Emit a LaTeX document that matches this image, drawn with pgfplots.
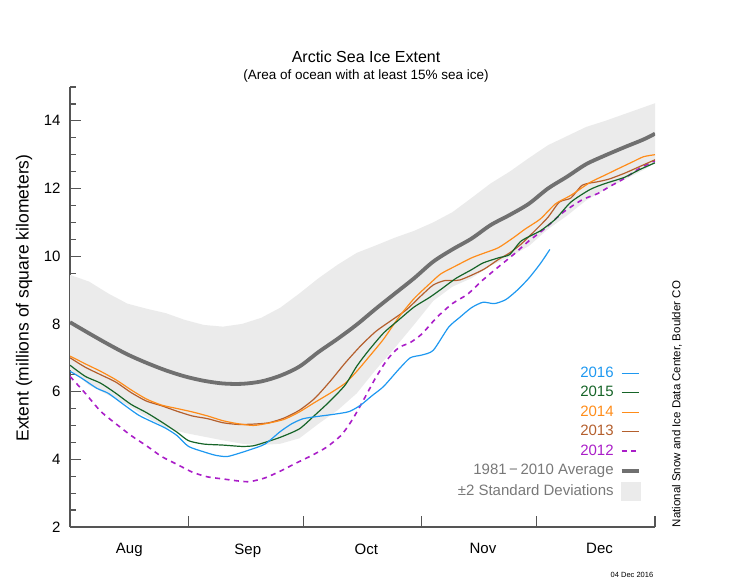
\documentclass[border=0pt]{standalone}
\usepackage{fontspec}
\setmainfont{Liberation Sans}
\usepackage{pgfplots}
\pgfplotsset{compat=1.18}
\usepgfplotslibrary{fillbetween}
\definecolor{cA}{RGB}{30,152,240}
\definecolor{cB}{RGB}{22,100,40}
\definecolor{cC}{RGB}{255,140,25}
\definecolor{cD}{RGB}{180,95,45}
\definecolor{cE}{RGB}{170,30,200}
\definecolor{avg}{RGB}{112,112,112}
\definecolor{band}{RGB}{235,235,235}
\definecolor{axc}{RGB}{85,85,85}
\definecolor{legtxt}{RGB}{120,120,120}
\begin{document}
\begin{tikzpicture}
\begin{axis}[
  at={(70pt,61pt)}, anchor=south west,
  scale only axis, width=585pt, height=440pt,
  xmin=0, xmax=153, ymin=2, ymax=15,
  axis x line*=bottom, axis y line*=left,
  axis line style={axc, line width=1.2pt},
  tick align=inside,
  tick style={axc, line width=1.2pt},
  major tick length=11pt, minor tick length=6pt,
  xtick={0,31,61,92,122,153}, xticklabels={},
  extra x ticks={15.5,46.5,77.5,108,138.5},
  extra x tick labels={Aug,Sep,Oct,Nov,Dec},
  extra x tick style={major tick length=0pt, tick style={draw=none}},
  x tick label style={font=\fontsize{15}{15}\selectfont, yshift=-13pt},
  ytick={2,4,...,14},
  minor ytick={2.5,3,...,15},
  y tick label style={font=\fontsize{15}{15}\selectfont, xshift=-6pt},
  /pgf/number format/assume math mode=true,
  legend plot pos=right,
  legend cell align=right,
  legend style={draw=none, fill=none, at={(0.976,0.368)}, anchor=north east,
    inner sep=0pt, row sep=3.5pt, column sep=5pt,
    font=\fontsize{15}{15}\selectfont,
    nodes={text height=11pt, text depth=3pt, inner sep=1pt}},
]
% +-2 SD band
\addplot[name path=upper, draw=none, forget plot] coordinates {
(0,9.45)(5,9.25)(10,8.9)(15,8.6)(20,8.45)(25,8.32)(30,8.12)(35,7.97)(40,7.92)(45,8.0)(50,8.18)(55,8.48)(60,8.9)(65,9.35)(70,9.75)(75,10.1)(80,10.32)(85,10.55)(90,10.75)(95,11.0)(100,11.3)(105,11.72)(110,12.15)(115,12.5)(120,12.9)(125,13.28)(130,13.55)(135,13.82)(140,14.0)(145,14.2)(150,14.4)(153,14.52)};
\addplot[name path=lower, draw=none, forget plot] coordinates {
(0,6.65)(5,6.19)(10,5.9)(15,5.6)(20,5.25)(25,4.94)(30,4.78)(35,4.67)(40,4.56)(45,4.46)(50,4.42)(55,4.46)(60,4.62)(65,5.05)(70,5.45)(75,5.95)(80,6.65)(85,7.3)(90,7.98)(95,8.68)(100,9.1)(105,9.35)(110,9.72)(115,9.98)(120,10.3)(125,10.8)(130,11.2)(135,11.65)(140,11.98)(145,12.26)(150,12.55)(153,12.75)};
\addplot[band, forget plot] fill between[of=upper and lower];
% average
\addplot[avg, line width=3.8pt, smooth, forget plot] coordinates {
(0,8.05)(5,7.72)(10,7.40)(15,7.10)(20,6.85)(25,6.63)(30,6.45)(35,6.32)(40,6.24)(45,6.23)(50,6.30)(55,6.47)(60,6.74)(65,7.17)(70,7.56)(75,7.98)(80,8.45)(85,8.90)(90,9.35)(95,9.84)(100,10.2)(105,10.52)(110,10.92)(115,11.22)(120,11.55)(125,12.0)(130,12.35)(135,12.72)(140,12.98)(145,13.22)(150,13.45)(153,13.62)};
% 2012
\addplot[cE, line width=1.6pt, dash pattern=on 5pt off 4.5pt, smooth, tension=0.4, forget plot] coordinates {
(0,6.45)(4,5.95)(8,5.42)(12,5.05)(16,4.7)(20,4.4)(24,4.08)(28,3.85)(32,3.62)(36,3.48)(40,3.42)(44,3.36)(47,3.34)(51,3.45)(55,3.65)(59,3.88)(63,4.1)(67,4.35)(71,4.72)(74,5.2)(77,5.8)(80,6.42)(83,6.95)(86,7.3)(89,7.45)(92,7.7)(96,8.2)(100,8.6)(104,8.88)(108,9.3)(112,9.68)(116,10.05)(120,10.45)(124,10.8)(129,11.3)(134,11.67)(138,11.85)(141,12.05)(145,12.3)(149,12.6)(153,12.82)};
% 2013
\addplot[cD, line width=1.2pt, smooth, tension=0.4, forget plot] coordinates {
(0,7.0)(4,6.72)(8,6.5)(12,6.28)(16,5.97)(20,5.72)(24,5.58)(28,5.42)(32,5.28)(36,5.2)(40,5.08)(44,5.03)(48,5.04)(52,5.08)(56,5.22)(60,5.45)(64,5.8)(68,6.3)(72,6.85)(76,7.35)(80,7.78)(84,8.1)(88,8.42)(92,8.85)(95,9.15)(98,9.28)(102,9.3)(108,9.6)(112,9.9)(115,10.1)(118,10.36)(122,10.8)(125,11.15)(128,11.6)(131,11.72)(134,12.1)(138,12.2)(141,12.28)(145,12.45)(149,12.65)(153,12.85)};
% 2014
\addplot[cC, line width=1.2pt, smooth, tension=0.4, forget plot] coordinates {
(0,7.05)(4,6.82)(8,6.6)(12,6.35)(16,6.05)(20,5.78)(24,5.6)(28,5.5)(32,5.4)(36,5.28)(40,5.14)(44,5.05)(48,5.0)(52,5.07)(56,5.18)(60,5.4)(64,5.68)(68,5.95)(72,6.25)(75,6.6)(78,7.0)(82,7.55)(86,8.2)(90,8.75)(94,9.18)(97,9.48)(101,9.72)(105,9.95)(108,10.08)(112,10.25)(116,10.55)(119,10.8)(123,11.1)(127,11.55)(131,11.8)(136,12.18)(140,12.4)(144,12.62)(147,12.78)(150,12.94)(153,13.0)};
% 2015
\addplot[cB, line width=1.2pt, smooth, tension=0.4, forget plot] coordinates {
(0,6.78)(4,6.45)(8,6.25)(12,5.95)(16,5.62)(20,5.38)(24,5.1)(28,4.8)(31,4.55)(35,4.45)(40,4.42)(45,4.38)(48,4.4)(51,4.5)(55,4.65)(60,4.9)(64,5.3)(68,5.72)(72,6.2)(75,6.75)(78,7.2)(82,7.73)(86,8.12)(90,8.5)(94,8.78)(97,9.02)(101,9.35)(105,9.6)(108,9.8)(112,9.95)(115,10.05)(118,10.45)(123,10.75)(127,11.1)(131,11.6)(136,11.97)(140,12.15)(145,12.33)(149,12.56)(153,12.76)};
% 2016
\addplot[cA, line width=1.2pt, smooth, tension=0.4, forget plot] coordinates {
(0,6.6)(3,6.4)(7,6.1)(10,5.95)(14,5.62)(18,5.3)(22,5.08)(25,4.92)(28,4.7)(31,4.38)(35,4.22)(38,4.12)(41,4.08)(44,4.17)(47,4.28)(51,4.45)(55,4.82)(58,5.05)(61,5.2)(65,5.27)(69,5.33)(73,5.41)(76,5.6)(79,5.88)(82,6.15)(86,6.66)(89,7.0)(92,7.08)(95,7.22)(99,7.9)(102,8.2)(105,8.48)(108,8.64)(111,8.6)(114,8.72)(117,9.0)(120,9.35)(123,9.78)(125.5,10.2)};
% legend
\addlegendimage{cA, line width=1.2pt}
\addlegendentry{\textcolor{cA}{2016}}
\addlegendimage{cB, line width=1.2pt}
\addlegendentry{\textcolor{cB}{2015}}
\addlegendimage{cC, line width=1.2pt}
\addlegendentry{\textcolor{cC}{2014}}
\addlegendimage{cD, line width=1.2pt}
\addlegendentry{\textcolor{cD}{2013}}
\addlegendimage{cE, line width=1.6pt, dash pattern=on 5pt off 4.5pt}
\addlegendentry{\textcolor{cE}{2012}}
\addlegendimage{avg, line width=3.8pt}
\addlegendentry{\textcolor{legtxt}{1981\,\textminus\,2010 Average}}
\addlegendimage{legend image code/.code={\fill[band] (0pt,-9pt) rectangle (19pt,9pt);}}
\addlegendentry{\textcolor{legtxt}{±2 Standard Deviations}}
\end{axis}
\node[font=\fontsize{16}{16}\selectfont] at (366pt,531pt) {Arctic Sea Ice Extent};
\node[font=\fontsize{13.5}{13.5}\selectfont] at (366pt,512pt) {(Area of ocean with at least 15\% sea ice)};
\node[rotate=90, font=\fontsize{17.5}{17.5}\selectfont] at (24pt,290pt) {Extent (millions of square kilometers)};
\node[rotate=90, font=\fontsize{11.5}{11.5}\selectfont] at (677pt,184pt) {National Snow and Ice Data Center, Boulder CO};
\node[font=\fontsize{7.5}{7.5}\selectfont] at (632pt,13pt) {04 Dec 2016};
\path (0,0) rectangle (736pt,588pt);
\end{tikzpicture}
\end{document}
